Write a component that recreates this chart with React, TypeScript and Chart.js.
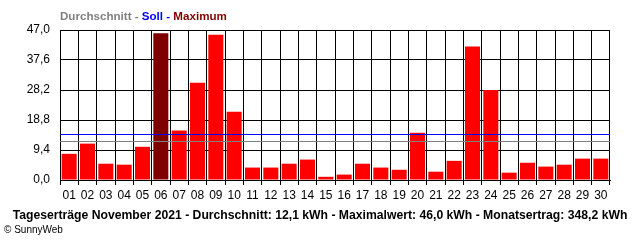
import React, { useEffect, useRef } from 'react';
import { Chart, registerables } from 'chart.js';
Chart.register(...registerables);

const days = ['01','02','03','04','05','06','07','08','09','10','11','12','13','14','15','16','17','18','19','20','21','22','23','24','25','26','27','28','29','30'];
const yields = [8.2, 11.4, 5.1, 4.8, 10.4, 46.0, 15.5, 30.5, 45.5, 21.4, 3.9, 3.9, 5.1, 6.4, 1.0, 1.7, 5.1, 3.9, 3.2, 14.8, 2.6, 6.0, 41.8, 28.2, 2.3, 5.4, 4.2, 4.8, 6.7, 6.7];
const maxDayIndex = 5;
const average = 12.1;
const target = 14.4;
const yTicks = [0, 9.4, 18.8, 28.2, 37.6, 47.0];
const legendParts = [
  { text: 'Durchschnitt - ', color: '#808080' },
  { text: 'Soll - ', color: '#0000FF' },
  { text: 'Maximum', color: '#800000' },
];
const footerTitle = 'Tageserträge November 2021 - Durchschnitt: 12,1 kWh - Maximalwert: 46,0 kWh - Monatsertrag: 348,2 kWh';
const copyright = '© SunnyWeb';

const FONT = '"Liberation Sans", Arial, sans-serif';

const overlay = {
  id: 'overlay',
  afterDatasetsDraw(chart: any) {
    const { ctx, chartArea, scales } = chart;
    const y = scales.y;
    ctx.save();
    ctx.lineWidth = 1;
    const lines: [number, string][] = [[average, '#808080'], [target, '#0000FF']];
    lines.forEach(([v, c]) => {
      const py = Math.round(y.getPixelForValue(v)) + 0.5;
      ctx.strokeStyle = c;
      ctx.beginPath();
      ctx.moveTo(chartArea.left, py);
      ctx.lineTo(chartArea.right, py);
      ctx.stroke();
    });
    ctx.restore();
  },
  afterDraw(chart: any) {
    const { ctx } = chart;
    ctx.save();
    ctx.textBaseline = 'middle';
    ctx.font = `bold 11.6px ${FONT}`;
    let x = 60;
    legendParts.forEach((p) => {
      ctx.fillStyle = p.color;
      ctx.textAlign = 'left';
      ctx.fillText(p.text, x, 17);
      x += ctx.measureText(p.text).width;
    });
    ctx.font = `bold 12.2px ${FONT}`;
    ctx.fillStyle = '#000';
    ctx.textAlign = 'center';
    ctx.fillText(footerTitle, 320, 216, 616);
    ctx.font = `10px ${FONT}`;
    ctx.textAlign = 'left';
    ctx.fillText(copyright, 4, 230);
    ctx.restore();
  },
};

export default function App() {
  const ref = useRef<HTMLCanvasElement>(null);
  useEffect(() => {
    document.body.style.margin = '0';
    const chart = new Chart(ref.current as HTMLCanvasElement, {
      type: 'bar',
      data: {
        labels: days,
        datasets: [
          {
            data: yields,
            backgroundColor: yields.map((_, i) => (i === maxDayIndex ? '#800000' : '#FF0000')),
            borderWidth: 0,
            barPercentage: 0.82,
            categoryPercentage: 1,
          },
        ],
      },
      options: {
        responsive: false,
        animation: false,
        layout: { padding: { top: 30, right: 30, left: 0, bottom: 0 } },
        plugins: { legend: { display: false }, tooltip: { enabled: false }, title: { display: false } },
        scales: {
          x: {
            offset: true,
            grid: { color: '#000', lineWidth: 1, offset: true, tickLength: 5, drawTicks: true },
            border: { color: '#000', width: 1 },
            ticks: { color: '#000', font: { family: FONT, size: 12 }, padding: 3, maxRotation: 0, autoSkip: false },
            afterFit(scale: any) { scale.height = 60; },
          },
          y: {
            min: 0,
            max: 47,
            afterBuildTicks(scale: any) { scale.ticks = yTicks.map((v) => ({ value: v })); },
            grid: { color: '#000', lineWidth: 1, drawTicks: false },
            border: { color: '#000', width: 1 },
            ticks: {
              color: '#000',
              font: { family: FONT, size: 12 },
              padding: 10,
              callback: (v: any) => Number(v).toFixed(1).replace('.', ','),
            },
            afterFit(scale: any) { scale.width = 60; },
          },
        },
      },
      plugins: [overlay],
    });
    return () => chart.destroy();
  }, []);
  return (
    <div style={{ position: 'fixed', left: 0, top: 0, width: 640, height: 240, background: '#fff' }}>
      <canvas ref={ref} width={640} height={240} style={{ display: 'block' }} />
    </div>
  );
}
